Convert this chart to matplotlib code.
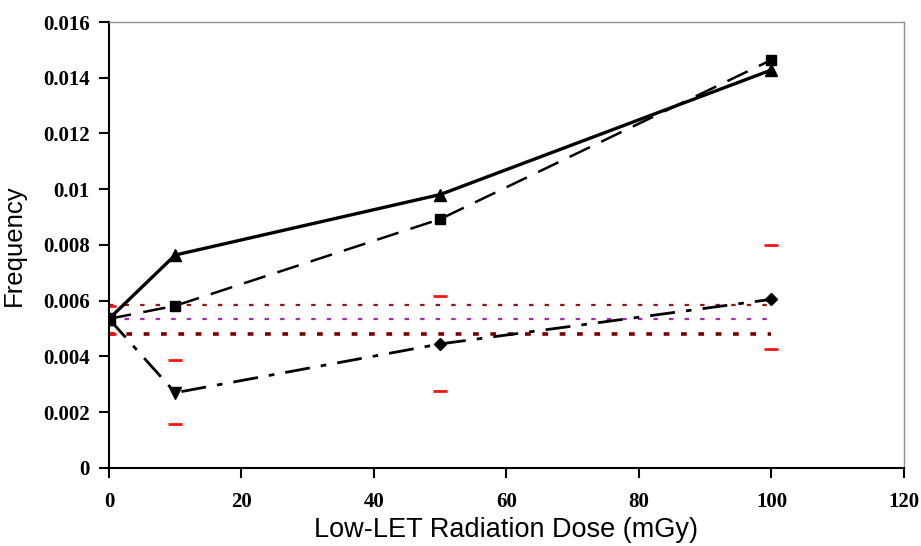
import matplotlib
matplotlib.use("Agg")
import matplotlib.pyplot as plt

# Data
dose = [0, 10, 50, 100]
freq_solid = [0.00535, 0.00764, 0.00981, 0.01428]      # solid, triangles
freq_dashed = [0.00535, 0.00582, 0.00893, 0.01464]     # dashed, squares
freq_dashdot = [0.00535, 0.00270, 0.00445, 0.00605]    # dash-dot, diamonds
err_dose = [0, 10, 50, 100]
err_upper = [0.00582, 0.00387, 0.00617, 0.00800]
err_lower = [0.00480, 0.00157, 0.00277, 0.00427]
ref_upper = 0.00585
ref_mid = 0.00535
ref_lower = 0.00480
ref_x = [0, 100]
xticks = [0, 20, 40, 60, 80, 100, 120]
yticks = [0, 0.002, 0.004, 0.006, 0.008, 0.01, 0.012, 0.014, 0.016]
ytick_labels = ["0", "0.002", "0.004", "0.006", "0.008", "0.01", "0.012", "0.014", "0.016"]

fig = plt.figure(figsize=(9.21, 5.46), dpi=100)
ax = fig.add_axes([0.1183, 0.1429, 0.8632, 0.8168])

# Reference band lines
ax.plot(ref_x, [ref_upper, ref_upper], color="#8B1A1A", lw=1.6, ls=(0, (2, 5)), zorder=1)
ax.plot(ref_x, [ref_mid, ref_mid], color="#9B30B0", lw=1.6, ls=(0, (2, 5)), zorder=1)
ax.plot(ref_x, [ref_lower, ref_lower], color="#7A0000", lw=2.6, ls=(0, (1.6, 3.2)), zorder=1)

# Series
ax.plot(dose, freq_solid, color="black", lw=2.4, ls="-", marker="^", ms=8, zorder=3)
ax.plot(dose, freq_dashed, color="black", lw=1.8, ls=(0, (9, 5)), marker="s", ms=7, zorder=3)
ax.plot(dose, freq_dashdot, color="black", lw=2.0, ls=(0, (9, 4, 2, 4)), zorder=3)
dd_markers = ["s", "v", "D", "D"]
dd_sizes = [7, 8, 6, 6]
for x, y, m, s in zip(dose, freq_dashdot, dd_markers, dd_sizes):
    ax.plot([x], [y], color="black", marker=m, ms=s, ls="none", zorder=4)
ax.plot([dose[0]], [freq_solid[0]], color="black", marker="s", ms=8, ls="none", zorder=5)

# Red error ticks
ax.plot(err_dose, err_upper, ls="none", marker="_", ms=10, mew=2, color="#FF1010", zorder=2)
ax.plot(err_dose, err_lower, ls="none", marker="_", ms=10, mew=2, color="#FF1010", zorder=2)

ax.set_xlim(0, 120)
ax.set_ylim(0, 0.016)
ax.set_xticks(xticks)
ax.set_yticks(yticks)
ax.set_yticklabels(ytick_labels)

tick_family = ["Liberation Serif", "DejaVu Serif"]
for lab in ax.get_xticklabels() + ax.get_yticklabels():
    lab.set_fontfamily(tick_family)
    lab.set_fontweight("bold")
    lab.set_fontsize(15)

ax.tick_params(axis="both", direction="out", length=7, width=1.5, colors="black")
ax.tick_params(axis="x", pad=10)
ax.tick_params(axis="y", pad=7)

for side in ["left", "bottom"]:
    ax.spines[side].set_color("black")
    ax.spines[side].set_linewidth(1.5)
for side in ["top", "right"]:
    ax.spines[side].set_color("#909090")
    ax.spines[side].set_linewidth(1.0)

label_family = ["Liberation Sans", "DejaVu Sans"]
ax.set_xlabel("Low-LET Radiation Dose (mGy)", family=label_family, fontsize=19.5, labelpad=4)
ax.set_ylabel("Frequency", family=label_family, fontsize=18.5, labelpad=12)

fig.savefig("out.png", dpi=100)
